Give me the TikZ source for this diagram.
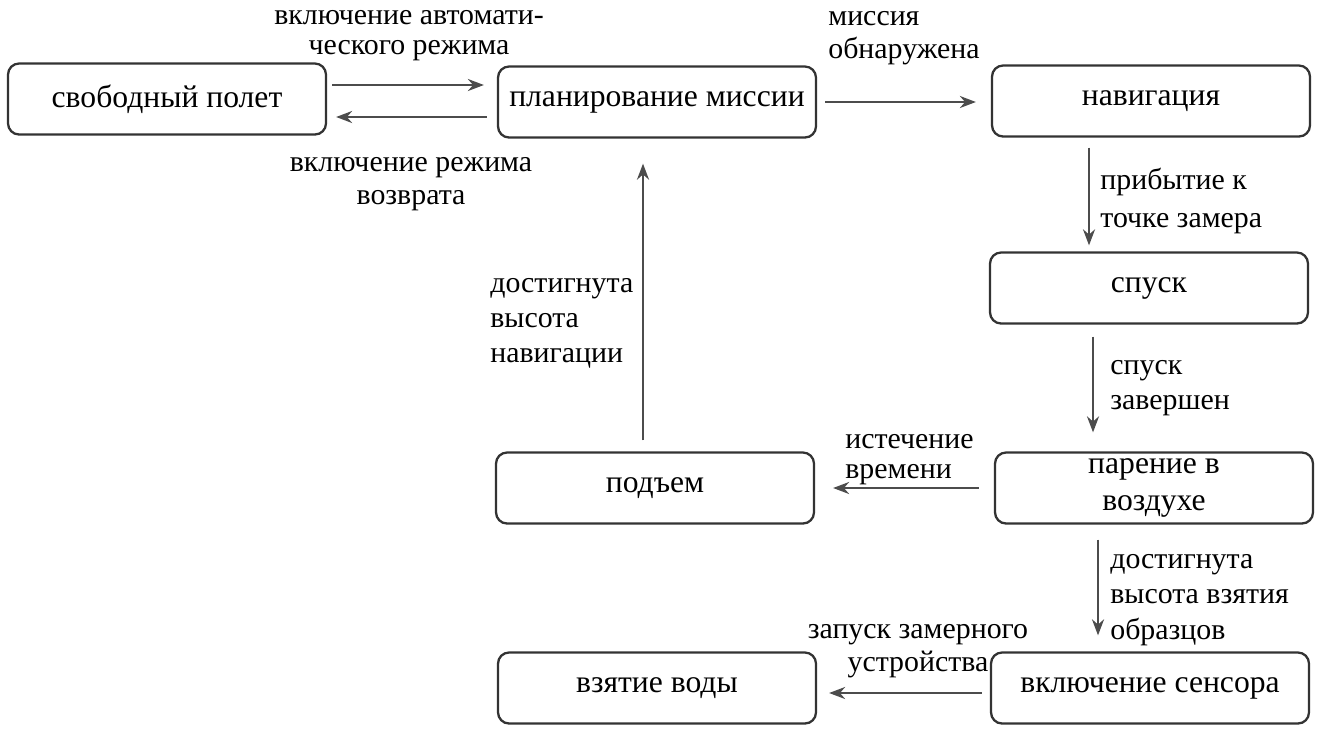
\documentclass[tikz,border=0pt]{standalone}
\usepackage{fontspec}
\setmainfont{Liberation Serif}
\usetikzlibrary{positioning,arrows.meta}
\tikzset{>={Stealth[length=0.32cm,width=0.24cm]}}

\begin{document}
\begin{tikzpicture}[x=0.02cm, y=-0.02cm, auto,
    font=\fontsize{17}{19}\selectfont,
    state/.style={rectangle, rounded corners=0.22cm, draw=black!80, line width=1.3pt,
        minimum width=6.36cm, minimum height=1.42cm, align=center,
        font=\fontsize{18}{20}\selectfont},
    arr/.style={draw=black!70, line width=1.4pt, ->},
    lbl/.style={align=left, anchor=west, inner sep=0pt},
    lblc/.style={align=center, inner sep=0pt}]
    \useasboundingbox (0,0) rectangle (1323,731);

    \node [state] (free) at (167,99) {свободный полет};
    \node [state] (plan) at (657,102) {планирование миссии};
    \node [state] (nav) at (1151,101) {навигация};
    \node [state] (descent) at (1149,288) {спуск};
    \node [state] (hover) at (1154,488) {парение в\\[1pt]воздухе};
    \node [state] (ascent) at (655,488) {подъем};
    \node [state] (sensor) at (1150,688) {включение сенсора};
    \node [state] (water) at (657,688) {взятие воды};

    \draw [arr, shorten <=0.1cm, shorten >=0.26cm] ([yshift=0.28cm]free.east) -- ([yshift=0.28cm]free.east -| plan.west);
    \draw [arr, shorten <=0.2cm, shorten >=0.18cm] ([yshift=-0.36cm]free.east -| plan.west) -- ([yshift=-0.36cm]free.east);
    \draw [arr, shorten <=0.16cm, shorten >=0.3cm] (plan.east) -- (plan.east -| nav.west);
    \draw [arr, shorten <=0.2cm, shorten >=0.12cm] ([xshift=-1.24cm]nav.south) -- ([xshift=-1.24cm]nav.south |- descent.north);
    \draw [arr, shorten <=0.24cm, shorten >=0.38cm] ([xshift=-1.12cm]descent.south) -- ([xshift=-1.12cm]descent.south |- hover.north);
    \draw [arr, shorten <=0.3cm, shorten >=0.36cm] (hover.west) -- (hover.west -| ascent.east);
    \draw [arr, shorten <=0.22cm, shorten >=0.5cm] ([xshift=-0.24cm]ascent.north) -- ([xshift=-0.24cm]ascent.north |- plan.south);
    \draw [arr, shorten <=0.3cm, shorten >=0.32cm] ([xshift=-1.12cm]hover.south) -- ([xshift=-1.12cm]hover.south |- sensor.north);
    \draw [arr, shorten <=0.16cm, shorten >=0.24cm] ([yshift=-0.1cm]sensor.west) -- ([yshift=-0.1cm]sensor.west -| water.east);

    % transition labels
    \node [lblc] (l_auto) at (409,36) {включение автомати-\\[-2pt]ческого режима};
    \node [lblc] (l_return) at (411,184) {включение режима\\возврата};
    \node [lbl] (l_found) at (828,38) {миссия\\обнаружена};
    \node [lbl] (l_arrive) at (1100,201) {прибытие к\\[3pt]точке замера};
    \node [lbl] (l_navalt) at (490,323) {достигнута\\[1pt]высота\\[1pt]навигации};
    \node [lbl] (l_done) at (1110,388) {спуск\\[1pt]завершен};
    \node [lbl] (l_time) at (845,460) {истечение\\[-2pt]времени};
    \node [lbl] (l_samplealt) at (1110,600) {достигнута\\[1pt]высота взятия\\[1pt]образцов};
    \node [lblc] (l_launch) at (918,651) {запуск замерного\\устройства};
\end{tikzpicture}
\end{document}
